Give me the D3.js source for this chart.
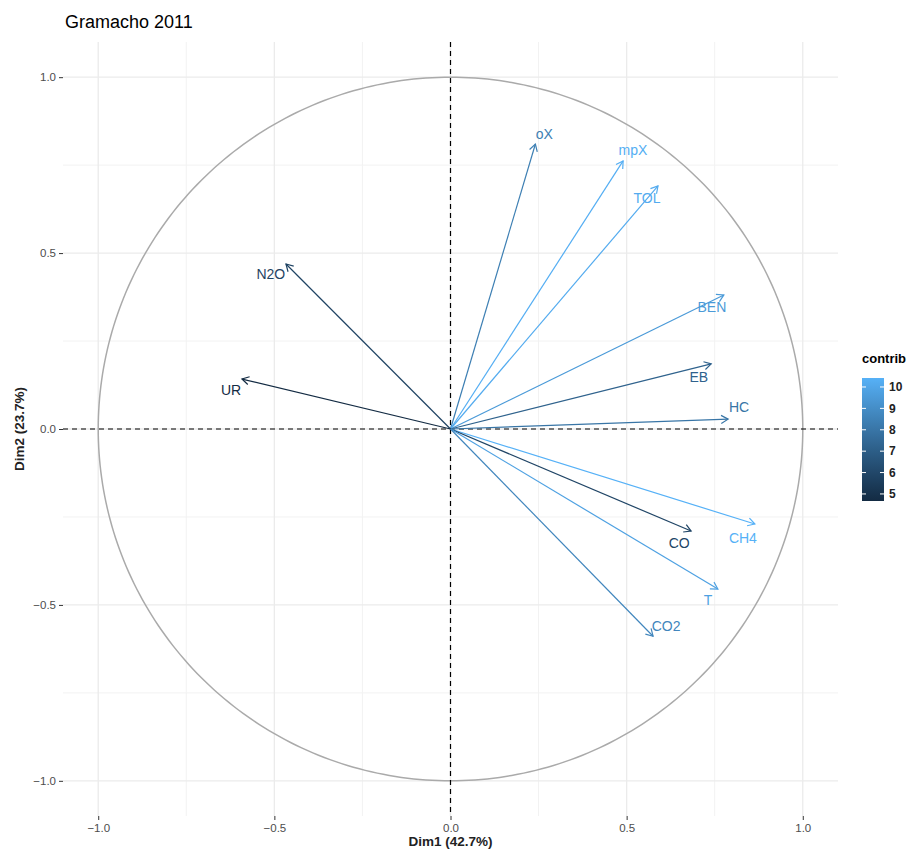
<!DOCTYPE html>
<html><head><meta charset="utf-8">
<script src="https://cdn.jsdelivr.net/npm/d3@7/dist/d3.min.js"></script>
<style>body{margin:0;background:#fff;} text{font-family:"Liberation Sans",Arial,sans-serif;}</style>
</head><body><svg id="c" width="911" height="850"></svg>
<script>
const variables = ["oX","mpX","TOL","BEN","EB","HC","CH4","CO","T","CO2","N2O","UR"];
const dim1 = [0.241,0.490,0.589,0.776,0.740,0.788,0.864,0.683,0.759,0.575,-0.467,-0.592];
const dim2 = [0.810,0.762,0.691,0.381,0.185,0.028,-0.270,-0.290,-0.455,-0.589,0.469,0.142];
const contrib = [8.4,10.3,10.2,9.5,7.2,8.0,10.42,5.9,9.8,8.7,5.8,4.67];
const labelX = [0.266,0.518,0.558,0.742,0.705,0.819,0.830,0.649,0.731,0.612,-0.510,-0.623];
const labelY = [0.839,0.794,0.657,0.347,0.148,0.063,-0.310,-0.324,-0.486,-0.560,0.441,0.111];
const axisTicks = [-1.0,-0.5,0.0,0.5,1.0];
const minorTicks = [-0.75,-0.25,0.25,0.75];
const legendTicks = [5,6,7,8,9,10];

const svg = d3.select("#c");
const L=63,R=838,T=42,B=816;
const x = d3.scaleLinear().domain([-1.1,1.1]).range([L,R]);
const y = d3.scaleLinear().domain([-1.1,1.1]).range([B,T]);
const cext = d3.extent(contrib);
const col = d3.scaleLinear().domain(cext).range(["#132B43","#56B1F7"]).interpolate(d3.interpolateLab);

// grid
const g = svg.append("g");
minorTicks.forEach(t=>{
  g.append("line").attr("x1",x(t)).attr("x2",x(t)).attr("y1",T).attr("y2",B).attr("stroke","#f2f2f2").attr("stroke-width",1);
  g.append("line").attr("y1",y(t)).attr("y2",y(t)).attr("x1",L).attr("x2",R).attr("stroke","#f2f2f2").attr("stroke-width",1);
});
axisTicks.forEach(t=>{
  g.append("line").attr("x1",x(t)).attr("x2",x(t)).attr("y1",T).attr("y2",B).attr("stroke","#ebebeb").attr("stroke-width",1.3);
  g.append("line").attr("y1",y(t)).attr("y2",y(t)).attr("x1",L).attr("x2",R).attr("stroke","#ebebeb").attr("stroke-width",1.3);
});

// axes
const xa = svg.append("g").attr("transform",`translate(0,${B})`).call(d3.axisBottom(x).tickValues(axisTicks).tickFormat(d3.format(".1f")).tickSize(4).tickPadding(4));
const ya = svg.append("g").attr("transform",`translate(${L},0)`).call(d3.axisLeft(y).tickValues(axisTicks).tickFormat(d3.format(".1f")).tickSize(4).tickPadding(3));
[xa,ya].forEach(a=>{
  a.select(".domain").remove();
  a.selectAll(".tick line").attr("stroke","#333").attr("stroke-width",1);
  a.selectAll(".tick text").attr("fill","#4d4d4d").style("font-size","11.5px").text(d=>d3.format(".1f")(d).replace("-","\u2212"));
});

// circle
const circ = d3.range(0,361,1).map(a=>[Math.cos(a*Math.PI/180),Math.sin(a*Math.PI/180)]);
svg.append("path").attr("d",d3.line().x(d=>x(d[0])).y(d=>y(d[1]))(circ)).attr("fill","none").attr("stroke","#aaaaaa").attr("stroke-width",1.5);

// dashed axes
svg.append("line").attr("x1",x(0)).attr("x2",x(0)).attr("y1",T).attr("y2",B).attr("stroke","#000").attr("stroke-width",1.2).attr("stroke-dasharray","5,4");
svg.append("line").attr("y1",y(0)).attr("y2",y(0)).attr("x1",L).attr("x2",R).attr("stroke","#000").attr("stroke-width",1.2).attr("stroke-dasharray","5,4");

// arrows
const data = variables.map((v,i)=>({v,x:dim1[i],y:dim2[i],c:contrib[i],lx:labelX[i],ly:labelY[i]}));
const ag = svg.append("g");
data.forEach(d=>{
  const x0=x(0),y0=y(0),x1=x(d.x),y1=y(d.y);
  const c=col(d.c);
  ag.append("line").attr("x1",x0).attr("y1",y0).attr("x2",x1).attr("y2",y1).attr("stroke",c).attr("stroke-width",1.2);
  const ang=Math.atan2(y1-y0,x1-x0), len=8, h=Math.PI/6;
  const p1=[x1-len*Math.cos(ang-h),y1-len*Math.sin(ang-h)];
  const p2=[x1-len*Math.cos(ang+h),y1-len*Math.sin(ang+h)];
  ag.append("path").attr("d",`M${p1[0]},${p1[1]}L${x1},${y1}L${p2[0]},${p2[1]}`).attr("fill","none").attr("stroke",c).attr("stroke-width",1.2);
  ag.append("text").attr("x",x(d.lx)).attr("y",y(d.ly)).attr("dy","0.36em").attr("text-anchor","middle").attr("fill",c).style("font-size","14px").text(d.v);
});

// titles
svg.append("text").attr("x",65).attr("y",28).style("font-size","18px").attr("fill","#000").text("Gramacho 2011");
svg.append("text").attr("x",x(0)).attr("y",846).attr("text-anchor","middle").style("font-size","13.5px").style("font-weight","bold").attr("fill","#222").text("Dim1 (42.7%)");
svg.append("text").attr("transform",`translate(24,${y(0)}) rotate(-90)`).attr("text-anchor","middle").style("font-size","13.5px").style("font-weight","bold").attr("fill","#222").text("Dim2 (23.7%)");

// legend
const lg = svg.append("g");
const bx=862,bw=22,bt=378,bb=501;
const ly = d3.scaleLinear().domain(cext).range([bb,bt]);
const defs = svg.append("defs");
const grad = defs.append("linearGradient").attr("id","gr").attr("x1","0").attr("y1","1").attr("x2","0").attr("y2","0");
d3.range(0,1.0001,0.1).forEach(t=>grad.append("stop").attr("offset",t).attr("stop-color",col(cext[0]+t*(cext[1]-cext[0]))));
lg.append("text").attr("x",bx).attr("y",363).style("font-size","13px").style("font-weight","bold").attr("fill","#000").text("contrib");
lg.append("rect").attr("x",bx).attr("y",bt).attr("width",bw).attr("height",bb-bt).attr("fill","url(#gr)");
legendTicks.forEach(t=>{
  lg.append("line").attr("x1",bx).attr("x2",bx+4).attr("y1",ly(t)).attr("y2",ly(t)).attr("stroke","#fff").attr("stroke-width",1);
  lg.append("line").attr("x1",bx+bw-4).attr("x2",bx+bw).attr("y1",ly(t)).attr("y2",ly(t)).attr("stroke","#fff").attr("stroke-width",1);
  lg.append("text").attr("x",bx+bw+5).attr("y",ly(t)).attr("dy","0.36em").style("font-size","12px").style("font-weight","bold").attr("fill","#222").text(t);
});
</script></body></html>
